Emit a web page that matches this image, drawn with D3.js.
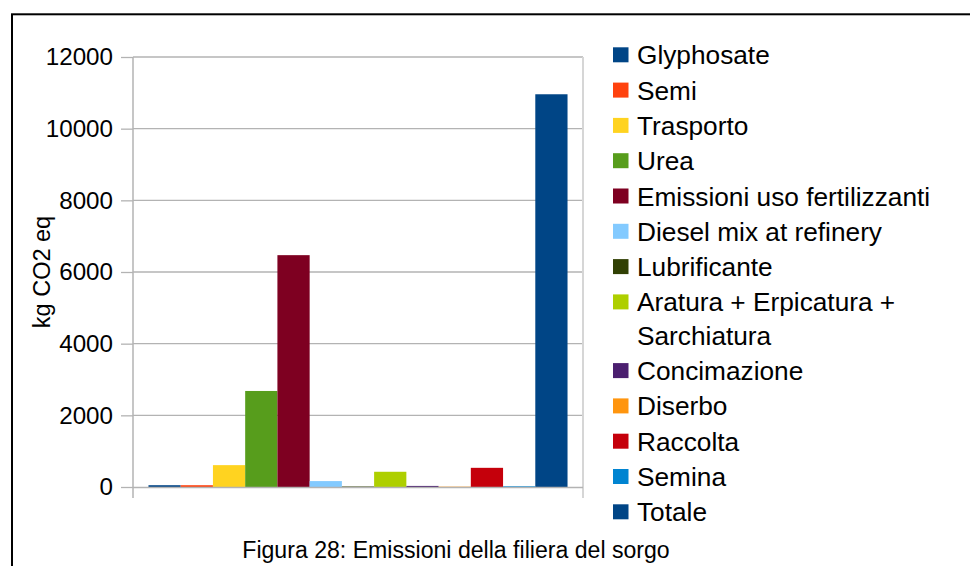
<!DOCTYPE html>
<html>
<head>
<meta charset="utf-8">
<script src="https://cdn.jsdelivr.net/npm/d3@7"></script>
<style>
  html, body { margin: 0; padding: 0; background: #fff; }
  svg { display: block; font-family: "Liberation Sans", Arial, sans-serif; }
</style>
</head>
<body>
<svg id="chart" width="970" height="566"></svg>
<script>
// Emission sources of the sorghum supply chain (kg CO2 eq)
const series = [
  "Glyphosate", "Semi", "Trasporto", "Urea", "Emissioni uso fertilizzanti",
  "Diesel mix at refinery", "Lubrificante", "Aratura + Erpicatura + Sarchiatura",
  "Concimazione", "Diserbo", "Raccolta", "Semina", "Totale"
];
const values = [50, 50, 610, 2680, 6470, 165, 15, 425, 30, 10, 535, 20, 10960];
const colors = [
  "#004586", "#ff420e", "#ffd320", "#579d1c", "#7e0021", "#83caff", "#314004",
  "#aecf00", "#4b1f6f", "#ff950e", "#c5000b", "#0084d1", "#004586"
];
// Legend text, split where the long entry wraps
const legendLines = [
  ["Glyphosate"], ["Semi"], ["Trasporto"], ["Urea"], ["Emissioni uso fertilizzanti"],
  ["Diesel mix at refinery"], ["Lubrificante"], ["Aratura + Erpicatura +", "Sarchiatura"],
  ["Concimazione"], ["Diserbo"], ["Raccolta"], ["Semina"], ["Totale"]
];
const yTicks = [0, 2000, 4000, 6000, 8000, 10000, 12000];
const yTitle = "kg CO2 eq";
const caption = "Figura 28: Emissioni della filiera del sorgo";

const svg = d3.select("#chart");

// outer frame
svg.append("rect")
  .attr("x", 12).attr("y", 14.3).attr("width", 970).attr("height", 600)
  .attr("fill", "none").attr("stroke", "#000").attr("stroke-width", 2);

const plot = { left: 133, right: 583, top: 57, bottom: 487 };

const y = d3.scaleLinear().domain([0, 12000]).range([plot.bottom, plot.top]);
const x = d3.scaleBand().domain(series).range([plot.left, plot.right])
  .paddingInner(0).paddingOuter(0.48);

// gridlines
svg.append("g")
  .selectAll("line").data(yTicks.filter(d => d > 0)).join("line")
  .attr("x1", plot.left).attr("x2", plot.right)
  .attr("y1", d => y(d)).attr("y2", d => y(d))
  .attr("stroke", "#b3b3b3").attr("stroke-width", 1.3);

// right edge of plot area
svg.append("line")
  .attr("x1", plot.right).attr("x2", plot.right)
  .attr("y1", plot.top).attr("y2", plot.bottom + 11)
  .attr("stroke", "#d6d6d6").attr("stroke-width", 2);

// y axis
const yAxis = d3.axisLeft(y).tickValues(yTicks).tickSize(12).tickPadding(8)
  .tickFormat(d3.format("d"));
const gy = svg.append("g").attr("transform", `translate(${plot.left},0)`).call(yAxis);
gy.select(".domain").remove();
gy.selectAll(".tick line").attr("stroke", "#b3b3b3").attr("stroke-width", 1.3);
gy.selectAll(".tick text")
  .attr("fill", "#000").attr("font-size", "24.2px")
  .attr("font-family", "Liberation Sans, Arial, sans-serif");
svg.append("line")
  .attr("x1", plot.left).attr("x2", plot.left)
  .attr("y1", plot.top).attr("y2", plot.bottom + 11)
  .attr("stroke", "#b3b3b3").attr("stroke-width", 1.5);

// bars
svg.append("g")
  .selectAll("rect").data(series).join("rect")
  .attr("x", d => x(d))
  .attr("width", x.bandwidth())
  .attr("y", (d, i) => y(values[i]))
  .attr("height", (d, i) => plot.bottom - y(values[i]))
  .attr("fill", (d, i) => colors[i]);

// x axis baseline
svg.append("line")
  .attr("x1", plot.left).attr("x2", plot.right)
  .attr("y1", plot.bottom + 0.5).attr("y2", plot.bottom + 0.5)
  .attr("stroke", "#b3b3b3").attr("stroke-width", 1.5);

// y axis title
svg.append("text")
  .attr("transform", `translate(50,272) rotate(-90)`)
  .attr("text-anchor", "middle")
  .attr("font-size", "23.5px")
  .text(yTitle);

// legend
const legend = svg.append("g");
let rowY = 64.3;
legendLines.forEach((lines, i) => {
  legend.append("rect")
    .attr("x", 613).attr("y", rowY - 17).attr("width", 15.5).attr("height", 15)
    .attr("fill", colors[i]);
  lines.forEach((t, j) => {
    legend.append("text")
      .attr("transform", `translate(637,${rowY + j * 33.4}) scale(1.05,1)`)
      .attr("font-size", "25px")
      .text(t);
  });
  rowY += 35.3 + (lines.length - 1) * 33.4;
});

// caption
svg.append("text")
  .attr("x", 456).attr("y", 558)
  .attr("text-anchor", "middle")
  .attr("font-size", "23.1px")
  .text(caption);
</script>
</body>
</html>
